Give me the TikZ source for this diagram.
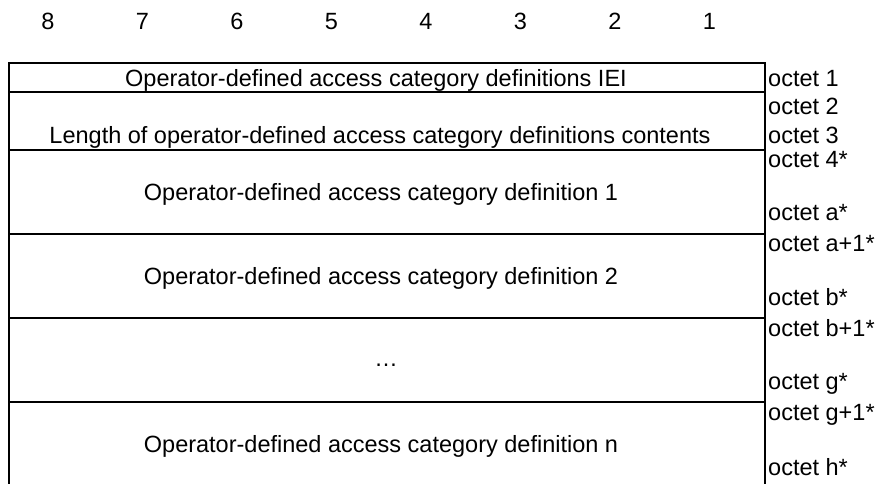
\documentclass[tikz,border=0pt]{standalone}
\usepackage{fontspec}
\setmainfont{Liberation Sans}
\begin{document}
\begin{tikzpicture}[x=1pt,y=-1pt,
  field/.style={draw,line width=2pt,rectangle,minimum width=756pt,anchor=north west,inner sep=0pt},
  lbl/.style={font=\fontsize{23.5}{26}\selectfont,inner sep=0pt,anchor=base},
  oct/.style={font=\fontsize{23.5}{26}\selectfont,inner sep=0pt,anchor=base west},
  bit/.style={font=\fontsize{23.5}{26}\selectfont,inner sep=0pt,anchor=base}]
\useasboundingbox (0,0) rectangle (880,484);
\begin{scope}
\clip (0,0) rectangle (880,484);
\node[field,minimum height=29pt] (r1) at (8,62) {};
\node[field,minimum height=58pt] (r2) at (8,91) {};
\node[field,minimum height=84pt] (r3) at (8,149) {};
\node[field,minimum height=84pt] (r4) at (8,233) {};
\node[field,minimum height=84pt] (r5) at (8,317) {};
\node[field,minimum height=84pt] (r6) at (8,401) {};
\end{scope}
\foreach \i/\b in {0/8,1/7,2/6,3/5,4/4,5/3,6/2,7/1}{
  \node[bit] (b\b) at ({48+94.5*\i},30) {\b};
}
\node[lbl] (t1) at (376,87) {Operator-defined access category definitions IEI};
\node[lbl] (t2) at (380,143) {Length of operator-defined access category definitions contents};
\node[lbl] (t3) at (381,200) {Operator-defined access category definition 1};
\node[lbl] (t4) at (381,284) {Operator-defined access category definition 2};
\node[lbl] (t5) at (386,366) {…};
\node[lbl] (t6) at (381,452) {Operator-defined access category definition n};
\node[oct] (o1) at (768,87) {octet 1};
\node[oct] (o2) at (768,115) {octet 2};
\node[oct] (o3) at (768,143) {octet 3};
\node[oct] (o4) at (768,167) {octet 4*};
\node[oct] (oa) at (768,220) {octet a*};
\node[oct] (oa1) at (768,251) {octet a+1*};
\node[oct] (ob) at (768,305) {octet b*};
\node[oct] (ob1) at (768,336) {octet b+1*};
\node[oct] (og) at (768,389) {octet g*};
\node[oct] (og1) at (768,420) {octet g+1*};
\node[oct] (oh) at (768,475) {octet h*};
\end{tikzpicture}
\end{document}
